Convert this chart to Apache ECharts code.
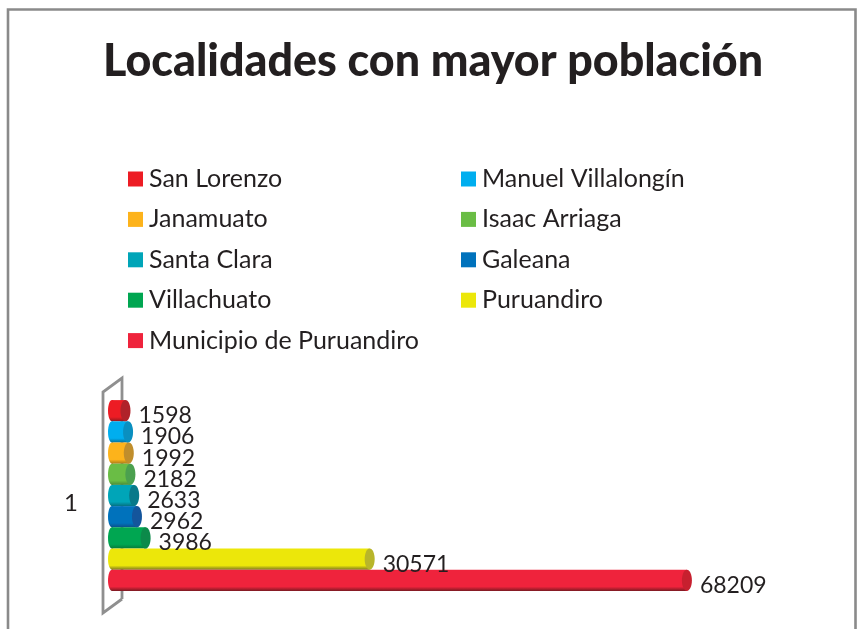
<!DOCTYPE html>
<html>
<head>
<meta charset="utf-8">
<style>
    html, body { margin: 0; padding: 0; background: #fff; }
    #main { width: 857px; height: 629px; }
</style>
<script src="https://cdn.jsdelivr.net/npm/echarts@6/dist/echarts.min.js"></script>
</head>
<body>
<div id="main"></div>
<script>
    let titleText = 'Localidades con mayor población';
    let categories = ['1'];
    let names = ['San Lorenzo', 'Manuel Villalongín', 'Janamuato', 'Isaac Arriaga', 'Santa Clara', 'Galeana', 'Villachuato', 'Puruandiro', 'Municipio de Puruandiro'];
    let values = [1598, 1906, 1992, 2182, 2633, 2962, 3986, 30571, 68209];
    let colors = ['#ed1c24', '#00aeef', '#fdb31b', '#6abd45', '#00a5b8', '#0072bc', '#00a651', '#ece70a', '#ef233c'];
    let capColors = ['#b0222a', '#0a8fc0', '#c08e2c', '#4ba04f', '#08798a', '#14559c', '#0c8a4a', '#b8b52a', '#c7202f'];
    let darkColors = ['#8f1a1f', '#056f99', '#a87a18', '#4a8a36', '#067080', '#0c4f8a', '#067a3a', '#7d7a20', '#7d1a22'];

    let textColor = '#231f20';
    let fontFamily = 'Lato, Carlito, sans-serif';
    let barWidth = 21.2;

    function barGradient(i) {
        return new echarts.graphic.LinearGradient(0, 0, 0, 1, [
            {offset: 0, color: colors[i]},
            {offset: 0.8, color: colors[i]},
            {offset: 1, color: darkColors[i]}
        ]);
    }

    function makeLegend(left, data) {
        return {
            orient: 'vertical',
            left: left,
            top: 161.5,
            itemWidth: 15,
            itemHeight: 15,
            itemGap: 15.4,
            icon: 'rect',
            selectedMode: false,
            textStyle: {
                fontFamily: fontFamily,
                fontSize: 25,
                color: textColor,
                padding: [0, 0, 0, 1]
            },
            data: data
        };
    }

    function legendItems(rest) {
        let items = [];
        names.forEach(function (name, i) {
            if (i % 2 === rest) {
                items.push({name: name, itemStyle: {color: colors[i]}});
            }
        });
        return items;
    }

    // 每个系列一根柱子
    let series = names.map(function (name, i) {
        return {
            type: 'bar',
            name: name,
            data: [values[i]],
            barWidth: barWidth,
            barGap: 0,
            z: 3,
            itemStyle: {color: barGradient(i)},
            label: {
                show: true,
                position: 'right',
                distance: 14,
                offset: [-1, 5],
                fontFamily: fontFamily,
                fontSize: 23,
                color: textColor
            }
        };
    });

    // 背后的灰色立体框
    series.unshift({
        type: 'custom',
        name: 'wall',
        silent: true,
        z: 1,
        data: [[0, 0]],
        renderItem: function (params, api) {
            let p = api.coord([0, 0]);
            let band = api.size([0, 1])[1];
            let frontX = p[0] - 9, backX = p[0] + 10;
            let top = p[1] - band / 2, bottom = p[1] + band / 2;
            return {
                type: 'polyline',
                shape: {
                    points: [
                        [backX, bottom - 7], [backX, top - 7], [frontX, top + 7],
                        [frontX, bottom + 7], [backX, bottom - 7]
                    ]
                },
                style: {fill: null, stroke: '#8f8f8f', lineWidth: 2.8}
            };
        }
    });

    // 圆柱两端的椭圆
    series.push({
        type: 'custom',
        name: 'caps',
        silent: true,
        z: 4,
        data: values.map(function (v, i) { return [v, 0, i]; }),
        renderItem: function (params, api) {
            let i = api.value(2);
            let end = api.coord([api.value(0), 0]);
            let start = api.coord([0, 0]);
            let cy = end[1] + (i - (names.length - 1) / 2) * barWidth;
            return {
                type: 'group',
                children: [{
                    type: 'ellipse',
                    shape: {cx: start[0], cy: cy, rx: 4, ry: barWidth / 2},
                    style: {fill: barGradient(i)}
                }, {
                    type: 'ellipse',
                    shape: {cx: end[0], cy: cy, rx: 5, ry: barWidth / 2},
                    style: {fill: capColors[i]}
                }]
            };
        }
    });

    let option = {
        animation: false,
        backgroundColor: '#fff',
        title: {
            text: titleText,
            left: 98,
            top: 34,
            textStyle: {
                fontFamily: fontFamily,
                fontSize: 44.8,
                fontWeight: 900,
                color: textColor
            }
        },
        legend: [makeLegend(123, legendItems(0)), makeLegend(456, legendItems(1))],
        grid: {left: 112, top: 385, width: 590, height: 221},
        xAxis: {type: 'value', min: 0, max: 70000, show: false},
        yAxis: {
            type: 'category',
            inverse: true,
            data: categories,
            axisLine: {show: false},
            axisTick: {show: false},
            axisLabel: {
                margin: 34,
                verticalAlign: 'top',
                lineHeight: 16,
                fontFamily: fontFamily,
                fontSize: 24,
                color: textColor
            }
        },
        graphic: [{
            type: 'rect',
            silent: true,
            shape: {x: 8, y: 9.5, width: 847.5, height: 700},
            style: {fill: null, stroke: '#8a8a8a', lineWidth: 2.6}
        }],
        series: series
    };

    let chart = echarts.init(document.getElementById('main'));
    chart.setOption(option);
</script>
</body>
</html>
